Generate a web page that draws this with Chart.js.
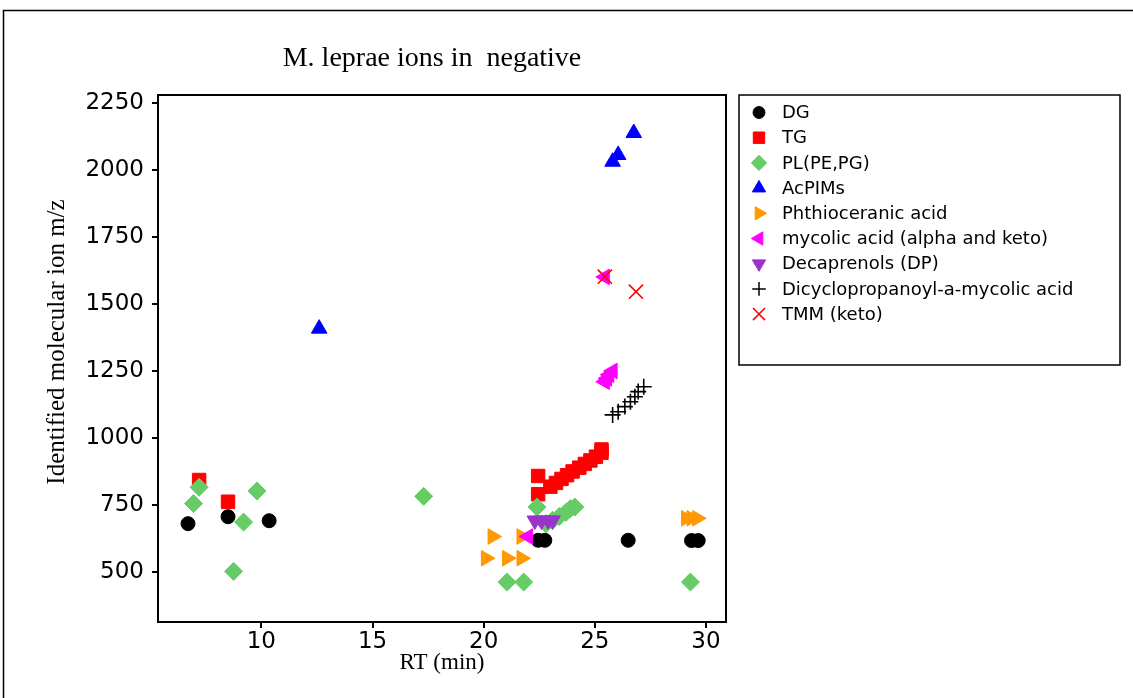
<!DOCTYPE html>
<html>
<head>
<meta charset="utf-8">
<script src="https://cdn.jsdelivr.net/npm/chart.js"></script>
<style>
  html, body { margin: 0; padding: 0; background: #fff; }
  #wrap { width: 1133px; height: 698px; }
</style>
</head>
<body>
<div id="wrap"><canvas id="chart" width="1133" height="698"></canvas></div>
<script>
// ---- data (RT min, m/z) ----
const seriesNames = ['DG', 'TG', 'PL(PE,PG)', 'AcPIMs', 'Phthioceranic acid',
  'mycolic acid (alpha and keto)', 'Decaprenols (DP)', 'Dicyclopropanoyl-a-mycolic acid', 'TMM (keto)'];

const dg = [[6.7, 680], [8.5, 706], [10.35, 691], [22.45, 618], [22.75, 618], [26.5, 618], [29.35, 617], [29.65, 617]];
const tg = [[7.2, 843], [8.5, 762], [22.45, 858], [22.45, 790], [23.0, 818], [23.25, 832], [23.5, 847],
  [23.75, 861], [24.0, 875], [24.3, 889], [24.55, 903], [24.8, 916], [25.05, 930], [25.3, 945], [25.3, 957]];
const pl = [[6.95, 755], [7.2, 816], [8.75, 502], [9.2, 686], [9.8, 802], [17.3, 782], [22.4, 742],
  [22.8, 680], [23.1, 693], [23.4, 707], [23.7, 722], [23.9, 736], [24.1, 742],
  [21.05, 462], [21.8, 462], [29.3, 462]];
const acpims = [[12.6, 1408], [25.8, 2031], [26.05, 2056], [26.75, 2138]];
const phthio = [[20.4, 632], [21.7, 632], [20.1, 551], [21.05, 551], [21.7, 551], [29.1, 700], [29.35, 700], [29.6, 700]];
const mycolic = [[22.0, 632], [25.45, 1210], [25.55, 1222], [25.65, 1236], [25.8, 1250], [25.45, 1601]];
const decaprenols = [[22.3, 692], [22.6, 692], [22.9, 692], [23.1, 692]];
const dicyclo = [[25.8, 1086], [26.05, 1098], [26.35, 1117], [26.6, 1135], [26.8, 1154], [26.95, 1173], [27.2, 1191]];
const tmm = [[25.45, 1602], [26.85, 1546]];

const xTicks = [10, 15, 20, 25, 30];
const yTicks = [500, 750, 1000, 1250, 1500, 1750, 2000, 2250];

// ---- marker look per series ----
const markers = [
  { style: 'circle',   color: '#000000', r: 7,   rot: 0 },
  { style: 'rect',     color: '#ff0000', r: 9.5, rot: 0 },
  { style: 'rectRot',  color: '#66cc66', r: 9,   rot: 0 },
  { style: 'triangle', color: '#0000ff', r: 9,   rot: 0 },
  { style: 'triangle', color: '#ff9900', r: 9,   rot: 90 },
  { style: 'triangle', color: '#ff00ff', r: 9,   rot: -90 },
  { style: 'triangle', color: '#9933cc', r: 9,   rot: 180 },
  { style: 'cross',    color: '#000000', r: 8,   rot: 0 },
  { style: 'crossRot', color: '#ff0000', r: 10,  rot: 0 }
];
const allSeries = [dg, tg, pl, acpims, phthio, mycolic, decaprenols, dicyclo, tmm];

const datasets = allSeries.map((pts, i) => {
  const m = markers[i];
  const line = m.style.startsWith('cross');
  return {
    label: seriesNames[i],
    data: pts.map(p => ({ x: p[0], y: p[1] })),
    pointStyle: m.style,
    pointRadius: m.r,
    pointRotation: m.rot,
    backgroundColor: m.color,
    borderColor: m.color,
    borderWidth: line ? 1.6 : 1,
    order: allSeries.length - i   // later series drawn on top
  };
});

// frame, plot border, titles and boxed legend
const decor = {
  id: 'decor',
  beforeDraw(chart) {
    const ctx = chart.ctx;
    ctx.save();
    ctx.fillStyle = '#fff';
    ctx.fillRect(0, 0, chart.width, chart.height);
    ctx.strokeStyle = '#000'; ctx.lineWidth = 1.5;
    ctx.beginPath(); ctx.moveTo(3.5, chart.height); ctx.lineTo(3.5, 10.5); ctx.lineTo(chart.width, 10.5); ctx.stroke();
    ctx.restore();
  },
  afterDraw(chart) {
    const ctx = chart.ctx, a = chart.chartArea;
    ctx.save();
    ctx.strokeStyle = '#000'; ctx.lineWidth = 2;
    ctx.strokeRect(a.left, a.top, a.right - a.left, a.bottom - a.top);

    ctx.fillStyle = '#000';
    ctx.font = '28px "Liberation Serif"';
    ctx.textAlign = 'center'; ctx.textBaseline = 'middle';
    ctx.fillText('M. leprae ions in  negative', 432, 59);

    // y axis title
    ctx.save();
    ctx.translate(57, 342);
    ctx.rotate(-Math.PI / 2);
    ctx.font = '25px "Liberation Serif"';
    ctx.fillText('Identified molecular ion m/z', 0, 0);
    ctx.restore();

    ctx.lineWidth = 1.5;
    ctx.strokeRect(739, 95, 381, 270);
    ctx.font = '18px "DejaVu Sans"';
    ctx.textAlign = 'left';
    seriesNames.forEach((name, i) => {
      const m = markers[i], y = 112.5 + i * 25.2;
      ctx.fillStyle = m.color; ctx.strokeStyle = m.color;
      ctx.lineWidth = m.style.startsWith('cross') ? 1.5 : 1;
      Chart.helpers.drawPoint(ctx, { pointStyle: m.style, radius: m.r * 0.85, rotation: m.rot, borderWidth: ctx.lineWidth }, 759, y);
      ctx.fillStyle = '#000';
      ctx.fillText(name, 782, y + 1);
    });
    ctx.restore();
  }
};

const axisGrid = { drawOnChartArea: false, drawTicks: true, tickLength: 6, color: '#000', lineWidth: 2 };
const tickFont = { family: 'DejaVu Sans', size: 23 };

new Chart(document.getElementById('chart'), {
  type: 'scatter',
  data: { datasets },
  options: {
    responsive: false,
    animation: false,
    layout: { padding: { top: 95, right: 407, bottom: 0, left: 0 } },
    plugins: { legend: { display: false }, title: { display: false }, tooltip: { enabled: false } },
    scales: {
      x: {
        type: 'linear', min: 5.35, max: 30.9,
        afterBuildTicks: s => { s.ticks = xTicks.map(v => ({ value: v })); },
        afterFit: s => { s.height = 76; },
        grid: axisGrid,
        border: { display: true, color: '#000', width: 2 },
        ticks: { color: '#000', font: tickFont, padding: 0, maxRotation: 0, callback: v => String(v) },
        title: { display: true, text: 'RT (min)', color: '#000',
                 font: { family: 'Liberation Serif', size: 23 }, padding: { top: 0, bottom: 21 } }
      },
      y: {
        type: 'linear', min: 313, max: 2280,
        afterBuildTicks: s => { s.ticks = yTicks.map(v => ({ value: v })); },
        afterFit: s => { s.width = 158; },
        grid: axisGrid,
        border: { display: true, color: '#000', width: 2 },
        ticks: { color: '#000', font: tickFont, padding: 8, callback: v => String(v) }
      }
    }
  },
  plugins: [decor]
});
</script>
</body>
</html>
